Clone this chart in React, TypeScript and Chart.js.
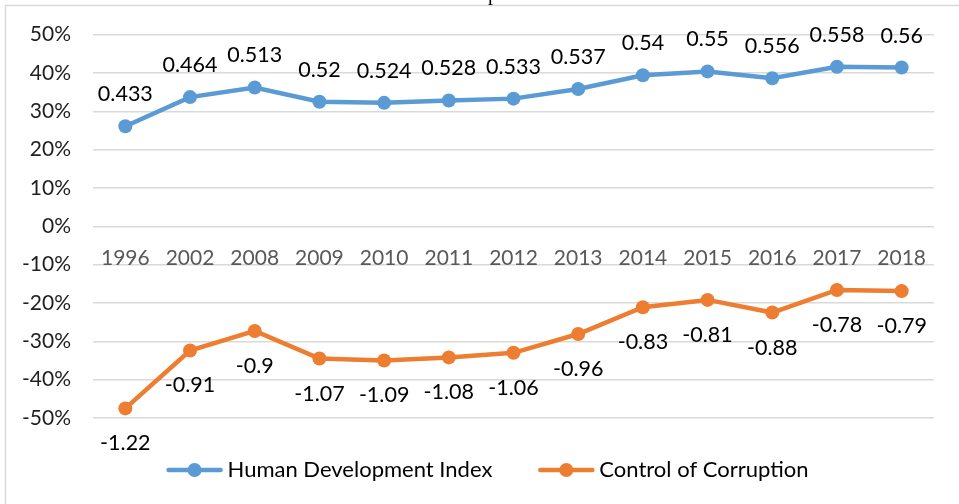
import React, { useEffect, useRef } from "react";
import { Chart, registerables } from "chart.js";

Chart.register(...registerables);

const years = ["1996", "2002", "2008", "2009", "2010", "2011", "2012", "2013", "2014", "2015", "2016", "2017", "2018"];
const hdiPlot = [26.1, 33.7, 36.2, 32.5, 32.2, 32.8, 33.3, 35.8, 39.4, 40.4, 38.6, 41.6, 41.4];
const hdiLabels = ["0.433", "0.464", "0.513", "0.52", "0.524", "0.528", "0.533", "0.537", "0.54", "0.55", "0.556", "0.558", "0.56"];
const cocPlot = [-47.5, -32.4, -27.3, -34.5, -35.0, -34.2, -33.0, -28.1, -21.1, -19.2, -22.5, -16.6, -16.9];
const cocLabels = ["-1.22", "-0.91", "-0.9", "-1.07", "-1.09", "-1.08", "-1.06", "-0.96", "-0.83", "-0.81", "-0.88", "-0.78", "-0.79"];
const seriesNames = ["Human Development Index", "Control of Corruption"];
const yTicks = [-50, -40, -30, -20, -10, 0, 10, 20, 30, 40, 50];
const titleFragment = "p";

const BLUE = "#5B9BD5";
const ORANGE = "#ED7D31";
const FONT = "Lato, Carlito, Calibri, sans-serif";

const decorPlugin = {
  id: "decor",
  beforeDraw(chart: any) {
    const ctx = chart.ctx;
    ctx.save();
    ctx.strokeStyle = "#d9d9d9";
    ctx.lineWidth = 1.5;
    ctx.strokeRect(5.5, 5.5, chart.width + 20, chart.height + 20);
    ctx.fillStyle = "#000";
    ctx.font = '20px "Liberation Serif", serif';
    ctx.textBaseline = "alphabetic";
    ctx.textAlign = "left";
    ctx.fillText(titleFragment, 488, -0.5);
    ctx.restore();
  },
  afterDatasetsDraw(chart: any) {
    const ctx = chart.ctx;
    ctx.save();
    ctx.font = `21.5px ${FONT}`;
    ctx.fillStyle = "#000";
    ctx.textAlign = "center";
    ctx.textBaseline = "middle";
    const labelSets = [hdiLabels, cocLabels];
    const offsets = [-32, 35];
    chart.data.datasets.forEach((_: any, di: number) => {
      const meta = chart.getDatasetMeta(di);
      meta.data.forEach((pt: any, i: number) => {
        ctx.fillText(labelSets[di][i], pt.x, pt.y + offsets[di]);
      });
    });
    // legend
    ctx.font = `22px ${FONT}`;
    const colors = [BLUE, ORANGE];
    const lineLen = 56;
    const gapText = 5;
    const gapItems = 46;
    const widths = seriesNames.map((n) => ctx.measureText(n).width);
    const total = widths.reduce((a, w) => a + lineLen + gapText + w, 0) + gapItems;
    let x = chart.width / 2 + 8 - total / 2;
    const y = 470;
    seriesNames.forEach((name, i) => {
      ctx.strokeStyle = colors[i];
      ctx.lineWidth = 4.5;
      ctx.lineCap = "round";
      ctx.beginPath();
      ctx.moveTo(x + 2, y);
      ctx.lineTo(x + lineLen - 2, y);
      ctx.stroke();
      ctx.fillStyle = colors[i];
      ctx.beginPath();
      ctx.arc(x + lineLen / 2, y, 7, 0, Math.PI * 2);
      ctx.fill();
      ctx.fillStyle = "#000";
      ctx.textAlign = "left";
      ctx.fillText(name, x + lineLen + gapText, y);
      x += lineLen + gapText + widths[i] + gapItems;
    });
    ctx.restore();
  },
};

export default function App() {
  const ref = useRef<HTMLCanvasElement>(null);
  useEffect(() => {
    document.body.style.margin = "0";
    const chart = new Chart(ref.current!, {
      type: "line",
      data: {
        labels: years,
        datasets: [
          {
            label: seriesNames[0],
            data: hdiPlot,
            borderColor: BLUE,
            backgroundColor: BLUE,
            borderWidth: 4.5,
            pointRadius: 7,
            pointHoverRadius: 7,
            pointBorderWidth: 0,
            tension: 0,
          },
          {
            label: seriesNames[1],
            data: cocPlot,
            borderColor: ORANGE,
            backgroundColor: ORANGE,
            borderWidth: 4.5,
            pointRadius: 7,
            pointHoverRadius: 7,
            pointBorderWidth: 0,
            tension: 0,
          },
        ],
      },
      options: {
        animation: false,
        responsive: false,
        layout: { padding: { top: 33, right: 25, bottom: 86, left: 0 } },
        plugins: { legend: { display: false }, tooltip: { enabled: false }, title: { display: false } },
        scales: {
          x: {
            position: { y: 0 } as any,
            offset: true,
            grid: { display: false, drawTicks: false },
            border: { display: false },
            ticks: { color: "#595959", font: { family: FONT, size: 21 }, padding: 19, maxRotation: 0, autoSkip: false },
          },
          y: {
            min: -50,
            max: 50,
            afterFit(scale: any) {
              scale.width = 93;
            },
            afterBuildTicks(scale: any) {
              scale.ticks = yTicks.map((v) => ({ value: v }));
            },
            grid: { color: "#d9d9d9", lineWidth: 1.5, drawTicks: false },
            border: { display: false },
            ticks: {
              color: "#1f1f1f",
              font: { family: FONT, size: 21 },
              padding: 22,
              callback: (v: any) => `${v}%`,
            },
          },
        },
      },
      plugins: [decorPlugin],
    });
    return () => chart.destroy();
  }, []);
  return (
    <div style={{ width: 959, height: 504, background: "#fff" }}>
      <canvas ref={ref} width={959} height={504} />
    </div>
  );
}
